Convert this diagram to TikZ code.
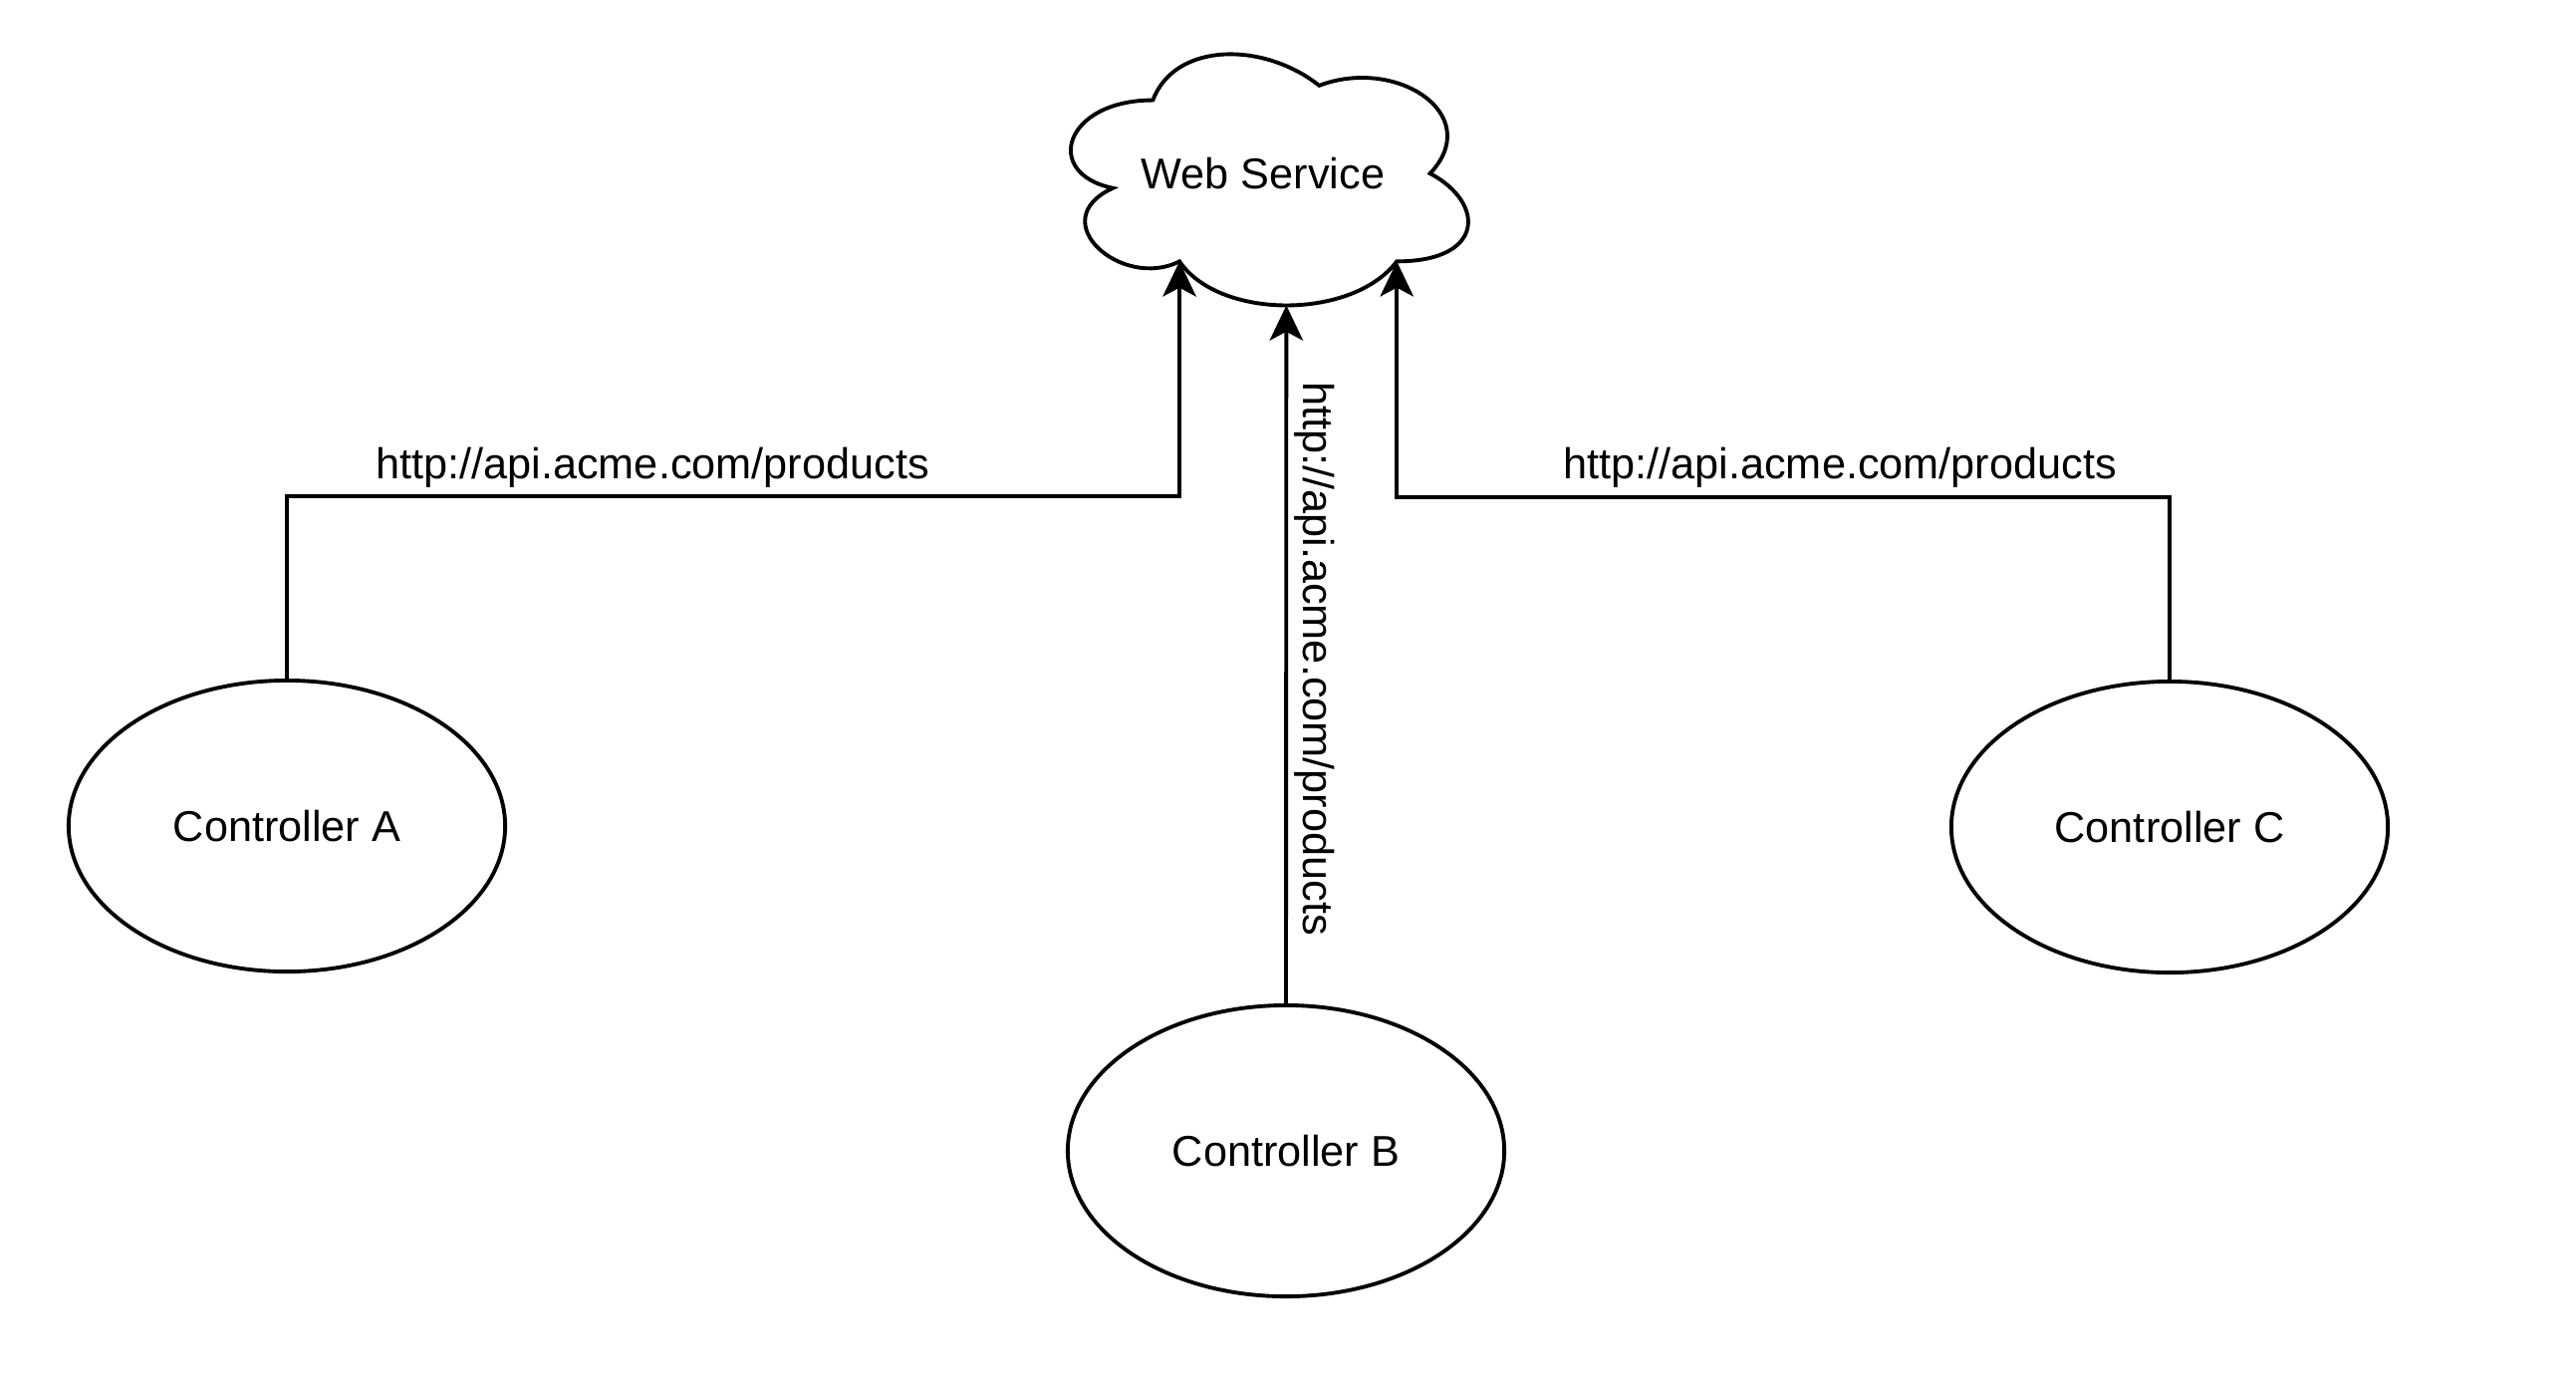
\documentclass[tikz,border=0pt]{standalone}
\usepackage{fontspec}
\setmainfont{Liberation Sans}
\usetikzlibrary{shapes.geometric,arrows.meta}

\begin{document}
\begin{tikzpicture}[x=0.01cm, y=-0.01cm,
	every node/.style={font=\fontsize{12.3}{14.8}\selectfont},
	ctrl/.style={draw, line width=1.1pt, ellipse, minimum width=4.38cm, minimum height=2.92cm},
	conn/.style={draw, line width=1.1pt, -{Stealth[length=10pt, width=9.5pt, inset=2.5pt]}},
	lbl/.style={inner sep=0pt}]
	% Page with white background
	\fill[white] (0,0) rectangle (2586,1390);
	\useasboundingbox (0,0) rectangle (2586,1390);
	
	% Cloud for the web service
	\begin{scope}[shift={(1046,27)}, x=4.45cm, y=-2.94cm]
		\draw[line width=1.1pt, fill=white] (0.25,0.25) .. controls (0.05,0.25) and (0,0.5) .. (0.16,0.55)
			.. controls (0,0.66) and (0.18,0.9) .. (0.31,0.8)
			.. controls (0.4,1) and (0.7,1) .. (0.8,0.8)
			.. controls (1,0.8) and (1,0.6) .. (0.875,0.5)
			.. controls (1,0.3) and (0.8,0.1) .. (0.625,0.2)
			.. controls (0.5,0.05) and (0.3,0.05) .. (0.25,0.25) -- cycle;
		\coordinate (wsA) at (0.31,0.8);
		\coordinate (wsB) at (0.551,0.95);
		\coordinate (wsC) at (0.8,0.8);
	\end{scope}
	\node (ws) at (1268,174) {Web Service};
	
	% Controllers
	\node[ctrl] (ctrlA) at (288,829) {Controller A};
	\node[ctrl] (ctrlB) at (1291,1155) {Controller B};
	\node[ctrl] (ctrlC) at (2178,830) {Controller C};
	
	% Requests to the web service
	\draw[conn] (ctrlA.north) -- ++(0,-183) -| (wsA);
	\draw[conn] (ctrlB.north) -- (wsB);
	\draw[conn] (ctrlC.north) -- ++(0,-183) -| (wsC);
	
	% Add labels
	\node[lbl, anchor=base] (lblA) at (655,480) {http://api.acme.com/products};
	\node[lbl, rotate=-90] (lblB) at (1320,661) {http://api.acme.com/products};
	\node[lbl, anchor=base] (lblC) at (1847,480) {http://api.acme.com/products};
\end{tikzpicture}
\end{document}
